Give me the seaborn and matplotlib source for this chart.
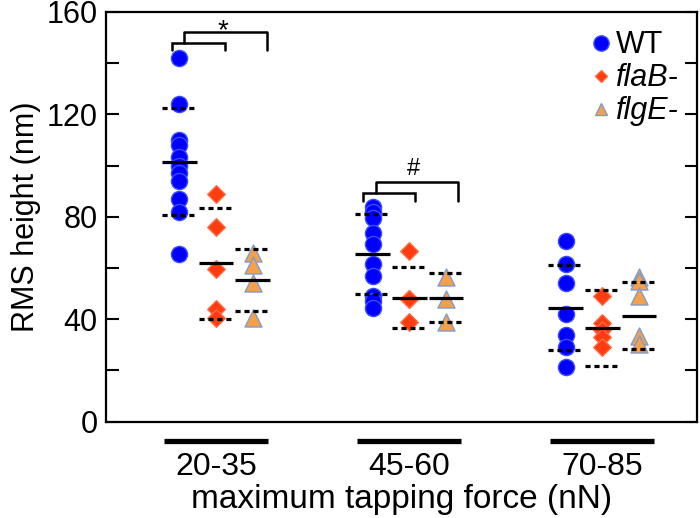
import numpy as np
import pandas as pd
import matplotlib
matplotlib.use('Agg')
import matplotlib.pyplot as plt
from matplotlib.lines import Line2D
import seaborn as sns

# force ranges (x groups) and strains
force_groups = ['20-35', '45-60', '70-85']
strains = ['WT', 'flaB-', 'flgE-']

# RMS height (nm)
wt_vals = [
    [142, 124, 110, 108, 103.5, 100, 97, 94, 87, 82, 65.5],
    [84, 82, 79.5, 73.5, 69.5, 61.5, 57, 49, 47, 44.5],
    [70.5, 61.5, 54, 42, 34, 29, 21.5],
]
flab_vals = [
    [89, 76, 59.5, 44, 40.5],
    [66.5, 48, 48, 39],
    [49, 38.5, 36, 33, 29],
]
flge_vals = [
    [66, 61, 54, 40.5],
    [56.5, 48, 39],
    [56.5, 55, 49, 33.5, 30.5],
]

# mean (solid bar) and sd (dashed bars) per group, per strain
wt_mean = [101.6, 65.5, 44.5]
wt_sd = [20.9, 15.7, 16.6]
flab_mean = [61.9, 48.4, 36.7]
flab_sd = [21.7, 11.9, 14.8]
flge_mean = [55.3, 48.4, 41.4]
flge_sd = [12.0, 9.6, 13.2]

sns.set_style('ticks')
plt.rcParams['font.family'] = ['Liberation Sans', 'DejaVu Sans']
plt.rcParams['text.color'] = 'black'
plt.rcParams['axes.labelcolor'] = 'black'
plt.rcParams['xtick.color'] = 'black'
plt.rcParams['ytick.color'] = 'black'
plt.rcParams['axes.edgecolor'] = 'black'

offsets = {'WT': -0.19, 'flaB-': 0.0, 'flgE-': 0.19}
styles = {
    'WT': dict(marker='o', color='#0000ff', ec='#3a4cff', s=135),
    'flaB-': dict(marker='D', color='#ff3b10', ec='#ff6a40', s=80),
    'flgE-': dict(marker='^', color='#f5a04a', ec='#7f9ccc', s=150),
}

rows = []
for strain, vals in zip(strains, [wt_vals, flab_vals, flge_vals]):
    for gi, g in enumerate(force_groups):
        for v in vals[gi]:
            rows.append({'group': g, 'strain': strain, 'rms': v,
                         'xpos': gi + offsets[strain]})
df = pd.DataFrame(rows)

stats = []
for strain, m, s in zip(strains, [wt_mean, flab_mean, flge_mean],
                        [wt_sd, flab_sd, flge_sd]):
    for gi in range(len(force_groups)):
        stats.append({'strain': strain, 'x': gi + offsets[strain],
                      'mean': m[gi], 'sd': s[gi]})
stats = pd.DataFrame(stats)

fig = plt.figure(figsize=(7, 5.18), dpi=100)
ax = fig.add_axes([0.1514, 0.1859, 0.8443, 0.791])

for strain in strains:
    st = styles[strain]
    sns.scatterplot(data=df[df['strain'] == strain], x='xpos', y='rms',
                    marker=st['marker'], color=st['color'], edgecolor=st['ec'],
                    linewidth=1.0, s=st['s'], ax=ax, zorder=3, legend=False)

hw = 0.09
ax.hlines(stats['mean'], stats['x'] - hw, stats['x'] + hw, color='black',
          lw=2.3, zorder=4)
for sign in (1, -1):
    ax.hlines(stats['mean'] + sign * stats['sd'], stats['x'] - hw, stats['x'] + hw,
              color='black', lw=2.3, linestyles=(0, (1.6, 1.2)), zorder=4)

# significance brackets
def bracket(x0, x1, y_top, y_bot, lw=1.8):
    ax.plot([x0, x0, x1, x1], [y_bot, y_top, y_top, y_bot], color='black',
            lw=lw, solid_joinstyle='miter', zorder=2)

bracket(-0.23, 0.045, 147.8, 145.2)
ax.plot([-0.165, -0.165, 0.265, 0.265], [147.8, 152.1, 152.1, 145.2],
        color='black', lw=1.8, zorder=2)
ax.text(0.035, 152.5, '*', ha='center', va='center', fontsize=20)

bracket(1 - 0.238, 1 + 0.03, 89.2, 86.3)
ax.plot([1 - 0.172, 1 - 0.172, 1.255, 1.255], [89.2, 93.5, 93.5, 86.3],
        color='black', lw=1.8, zorder=2)
ax.text(1.02, 98.5, '#', ha='center', va='center', fontsize=17)

# group bars under the axis
for gi in range(len(force_groups)):
    ax.plot([gi - 0.27, gi + 0.27], [-7.6, -7.6], color='black', lw=3.8,
            clip_on=False, solid_capstyle='butt')

ax.set_xlim(-0.57, 2.49)
ax.set_ylim(0, 160)
ax.set_yticks(np.arange(0, 161, 20))
ax.set_yticklabels([str(t) if t % 40 == 0 else '' for t in range(0, 161, 20)])
ax.set_xticks(range(len(force_groups)))
ax.set_xticklabels(force_groups)
ax.tick_params(axis='x', length=0, pad=22, labelsize=23)
ax.tick_params(axis='y', direction='in', length=9, width=1.5, labelsize=22,
               right=True, pad=6)
for sp in ax.spines.values():
    sp.set_linewidth(1.6)
ax.set_xlabel('maximum tapping force (nN)', fontsize=24, labelpad=1)
ax.set_ylabel('RMS height (nm)', fontsize=22, labelpad=4)

handles = [
    Line2D([], [], ls='none', marker='o', color='#0000ff', mec='#3a4cff', ms=11),
    Line2D([], [], ls='none', marker='D', color='#ff3b10', mec='#ff6a40', ms=6),
    Line2D([], [], ls='none', marker='^', color='#f5a04a', mec='#7f9ccc', ms=8),
]
leg = ax.legend(handles, ['WT', 'flaB-', 'flgE-'], loc='upper right',
                frameon=False, fontsize=22, handlelength=0.6, handletextpad=0.2,
                labelspacing=0.1, borderaxespad=0.2)
for t in leg.get_texts()[1:]:
    t.set_style('italic')

fig.savefig('out.png', dpi=100)
